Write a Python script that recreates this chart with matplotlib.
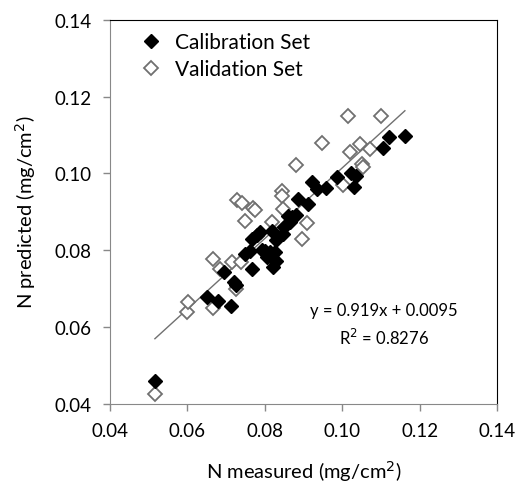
import numpy as np
import matplotlib
matplotlib.use("Agg")
import matplotlib.pyplot as plt

plt.rcParams['font.family'] = ['Lato', 'DejaVu Sans']

# calibration set (filled diamonds)
cal_x = [0.0516, 0.0650, 0.0680, 0.0712, 0.0695, 0.0721, 0.0725, 0.0766, 0.0750, 0.0762,
         0.0766, 0.0779, 0.0788, 0.0793, 0.0800, 0.0805, 0.0813, 0.0826, 0.0822, 0.0822,
         0.0830, 0.0818, 0.0830, 0.0848, 0.0850, 0.0861, 0.0865, 0.0870, 0.0880, 0.0887,
         0.0912, 0.0921, 0.0934, 0.0958, 0.0986, 0.1024, 0.1030, 0.1036, 0.1106, 0.1122,
         0.1162]
cal_y = [0.0460, 0.0678, 0.0668, 0.0654, 0.0742, 0.0716, 0.0708, 0.0751, 0.0790, 0.0798,
         0.0829, 0.0840, 0.0846, 0.0800, 0.0798, 0.0781, 0.0794, 0.0794, 0.0777, 0.0757,
         0.0772, 0.0850, 0.0826, 0.0842, 0.0860, 0.0890, 0.0872, 0.0885, 0.0892, 0.0933,
         0.0920, 0.0978, 0.0960, 0.0962, 0.0990, 0.1002, 0.0964, 0.0992, 0.1066, 0.1094,
         0.1098]

# validation set (open diamonds)
val_x = [0.0516, 0.0600, 0.0602, 0.0667, 0.0667, 0.0685, 0.0714, 0.0738, 0.0725, 0.0729,
         0.0740, 0.0770, 0.0774, 0.0749, 0.0818, 0.0844, 0.0844, 0.0846, 0.0880, 0.0895,
         0.0910, 0.0947, 0.1003, 0.1016, 0.1100, 0.1020, 0.1046, 0.1072, 0.1050, 0.1054]
val_y = [0.0425, 0.0638, 0.0664, 0.0648, 0.0776, 0.0752, 0.0770, 0.0768, 0.0699, 0.0931,
         0.0923, 0.0910, 0.0905, 0.0877, 0.0872, 0.0955, 0.0940, 0.0907, 0.1022, 0.0829,
         0.0870, 0.1080, 0.0970, 0.1150, 0.1150, 0.1055, 0.1076, 0.1063, 0.1024, 0.1016]

slope, intercept = 0.919, 0.0095
r2 = 0.8276

fig = plt.figure(figsize=(5.17, 4.85), dpi=100)
ax = fig.add_axes([0.2128, 0.1656, 0.7485, 0.7917])

# fitted line over the calibration range
lx = np.array([min(cal_x), max(cal_x)])
ax.plot(lx, slope * lx + intercept, color='#707070', lw=1, zorder=1)

ax.plot(val_x, val_y, 'D', ms=7, mfc='white', mec='#707070', mew=1.3,
        ls='none', label='Validation Set', zorder=2)
ax.plot(cal_x, cal_y, 'D', ms=7, mfc='black', mec='black',
        ls='none', label='Calibration Set', zorder=3)

ax.set_xlim(0.04, 0.14)
ax.set_ylim(0.04, 0.14)
ax.set_xticks(np.arange(0.04, 0.141, 0.02))
ax.set_yticks(np.arange(0.04, 0.141, 0.02))
ax.set_xticklabels(['0.04', '0.06', '0.08', '0.10', '0.12', '0.14'])
ax.set_yticklabels(['0.04', '0.06', '0.08', '0.10', '0.12', '0.14'])
ax.tick_params(direction='out', length=5, width=1, color='#888888',
               labelsize=13.5, pad=8)

for s in ['left', 'bottom']:
    ax.spines[s].set_color('#888888')
for s in ['top', 'right']:
    ax.spines[s].set_color('black')

ax.set_xlabel('N measured (mg/cm$^2$)', fontsize=14.5, labelpad=14)
ax.set_ylabel('N predicted (mg/cm$^2$)', fontsize=14.5, labelpad=12)

ax.text(0.1107, 0.0644, 'y = 0.919x + 0.0095', ha='center', va='center', fontsize=12)
ax.text(0.1107, 0.0574, 'R$^2$ = ' + str(r2), ha='center', va='center', fontsize=12)

h, l = ax.get_legend_handles_labels()
ax.legend(h[::-1], l[::-1], loc='upper left', bbox_to_anchor=(0.051, 0.99),
          frameon=False, fontsize=15, handletextpad=0.55, borderaxespad=0,
          labelspacing=0.35, handlelength=1.2)

fig.savefig('out.png', dpi=100)
